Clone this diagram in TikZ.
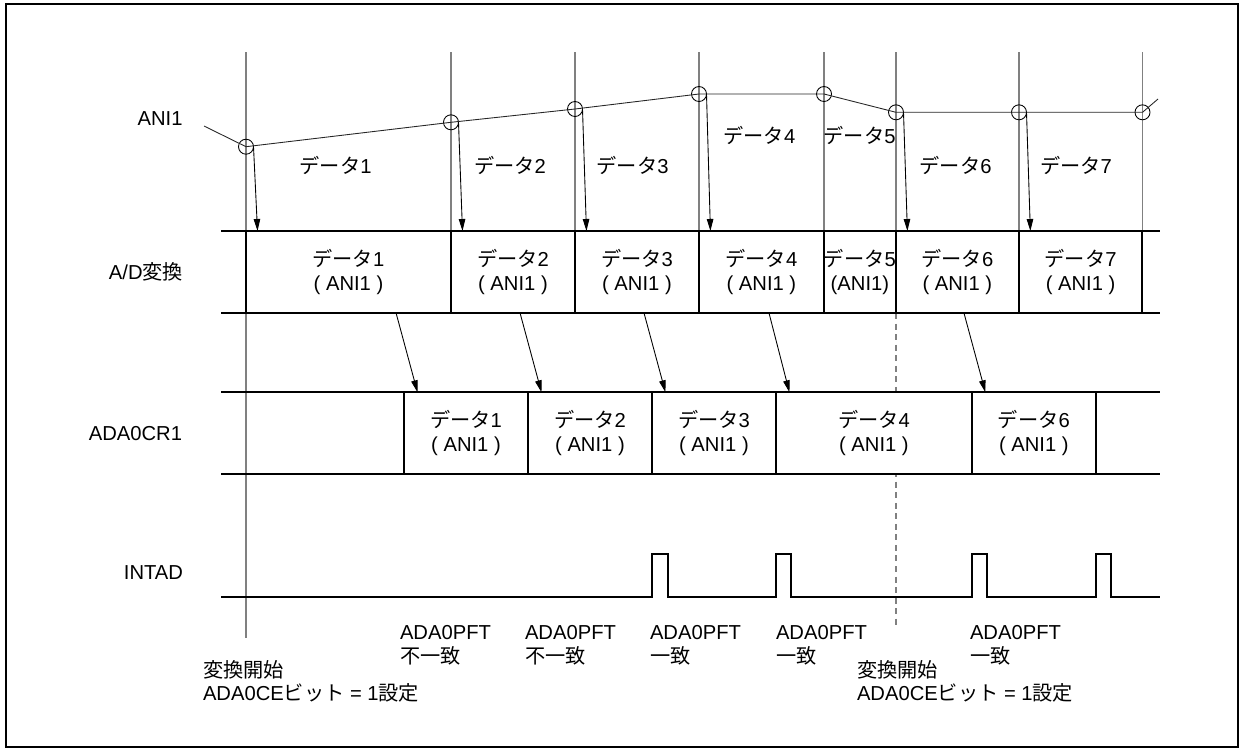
\documentclass[tikz,border=0pt]{standalone}
\usepackage{fontspec}
\setmainfont{Liberation Sans}
\newfontfamily\jp{Noto Sans CJK JP}
\usetikzlibrary{arrows.meta, positioning}

\begin{document}
\begin{tikzpicture}[
    x=0.02cm, y=-0.02cm,
    every node/.style={font=\fontsize{11.5}{13.6}\selectfont, inner sep=0pt, outer sep=0pt},
    grid/.style={gray, line width=0.6pt},
    row/.style={line width=1.3pt},
    sig/.style={black!85, line width=0.5pt},
    smp/.style={draw, circle, minimum size=0.3cm, line width=0.5pt},
    adbox/.style={draw, line width=1.3pt, minimum height=1.634cm, align=center},
    crbox/.style={draw, fill=white, line width=1.3pt, minimum height=1.64cm, align=center},
    arrow/.style={-{Triangle[length=2.4mm, width=1.3mm]}, line width=0.5pt},
    note/.style={anchor=north west, align=left}
  ]
  \useasboundingbox (0,0) rectangle (1241,751);
  \draw[line width=0.9pt] (6,4) rectangle (1238,747);

  % Signal names
  \node[anchor=east] (lani) at (182.5,119) {ANI1};
  \node[anchor=east] (lad)  at (183,272) {A/D{\jp 変換}};
  \node[anchor=east] (lcr)  at (182,434) {ADA0CR1};
  \node[anchor=east] (lint) at (183,573) {INTAD};

  % Sampling grid
  \draw[grid] (246,52) -- (246,638);
  \draw[grid] (451,52) -- (451,231);
  \draw[grid] (575,52) -- (575,231);
  \draw[grid] (699,52) -- (699,231);
  \draw[grid] (824,52) -- (824,231);
  \draw[grid] (896,52) -- (896,313);
  \draw[grid] (1019,52) -- (1019,231);
  \draw[grid] (1142.5,52) -- (1142.5,231);
  \draw[grid, dash pattern=on 3.4pt off 2.6pt] (896,313) -- (896,625);

  % ANI1 input and sampling points
  \coordinate (ain) at (204,126);
  \coordinate (aout) at (1158,99);
  \node[smp] (c1) at (246,146.7) {};
  \node[smp] (c2) at (451,122.3) {};
  \node[smp] (c3) at (575,109) {};
  \node[smp] (c4) at (699,94) {};
  \node[smp] (c5) at (824,94) {};
  \node[smp] (c6) at (896,112.3) {};
  \node[smp] (c7) at (1019,112.3) {};
  \node[smp] (c8) at (1142.5,112.3) {};
  \draw[sig] (ain) -- (c1.center) -- (c2.center) -- (c3.center) -- (c4.center)
    -- (c5.center) -- (c6.center) -- (c7.center) -- (c8.center) -- (aout);

  \node (d1) at (335.7,165) {{\jp データ}1};
  \node (d2) at (510,165) {{\jp データ}2};
  \node (d3) at (632.7,165) {{\jp データ}3};
  \node (d4) at (759.4,135) {{\jp データ}4};
  \node (d5) at (859.6,135) {{\jp データ}5};
  \node (d6) at (955.7,165) {{\jp データ}6};
  \node (d7) at (1076,165) {{\jp データ}7};

  % A/D conversion row
  \draw[row] (221,231) -- (1160,231);
  \draw[row] (221,312.7) -- (1160,312.7);
  \node[adbox, minimum width=4.1cm] (ad1) at (348.5,271.85) {{\jp データ}1\\( ANI1 )};
  \node[adbox, minimum width=2.48cm, right=0pt of ad1] (ad2) {{\jp データ}2\\( ANI1 )};
  \node[adbox, minimum width=2.48cm, right=0pt of ad2] (ad3) {{\jp データ}3\\( ANI1 )};
  \node[adbox, minimum width=2.5cm, right=0pt of ad3] (ad4) {{\jp データ}4\\( ANI1 )};
  \node[adbox, minimum width=1.44cm, right=0pt of ad4] (ad5) {{\jp データ}5\\(ANI1)};
  \node[adbox, minimum width=2.46cm, right=0pt of ad5] (ad6) {{\jp データ}6\\( ANI1 )};
  \node[adbox, minimum width=2.47cm, right=0pt of ad6] (ad7) {{\jp データ}7\\( ANI1 )};

  \draw[arrow] (c1.east) -- ([xshift=0.23cm]ad1.north west);
  \draw[arrow] (c2.east) -- ([xshift=0.23cm]ad2.north west);
  \draw[arrow] (c3.east) -- ([xshift=0.23cm]ad3.north west);
  \draw[arrow] (c4.east) -- ([xshift=0.23cm]ad4.north west);
  \draw[arrow] (c6.east) -- ([xshift=0.23cm]ad6.north west);
  \draw[arrow] (c7.east) -- ([xshift=0.23cm]ad7.north west);

  % ADA0CR1 row
  \draw[row] (221,392.3) -- (1160,392.3);
  \draw[row] (221,474.3) -- (1160,474.3);
  \node[crbox, minimum width=2.48cm] (cr1) at (466,433.3) {{\jp データ}1\\( ANI1 )};
  \node[crbox, minimum width=2.48cm, right=0pt of cr1] (cr2) {{\jp データ}2\\( ANI1 )};
  \node[crbox, minimum width=2.48cm, right=0pt of cr2] (cr3) {{\jp データ}3\\( ANI1 )};
  \node[crbox, minimum width=3.92cm, right=0pt of cr3] (cr4) {{\jp データ}4\\( ANI1 )};
  \node[crbox, minimum width=2.48cm, right=0pt of cr4] (cr6) {{\jp データ}6\\( ANI1 )};

  \draw[arrow] ([xshift=-1.1cm]ad1.south east) -- ([xshift=0.27cm]cr1.north west);
  \draw[arrow] ([xshift=-1.1cm]ad2.south east) -- ([xshift=0.27cm]cr2.north west);
  \draw[arrow] ([xshift=-1.1cm]ad3.south east) -- ([xshift=0.27cm]cr3.north west);
  \draw[arrow] ([xshift=-1.1cm]ad4.south east) -- ([xshift=0.27cm]cr4.north west);
  \draw[arrow] ([xshift=-1.1cm]ad6.south east) -- ([xshift=0.27cm]cr6.north west);

  % INTAD pulses
  \draw[row] (221,596.7) -- (652,596.7) -- (652,554) -- (668,554) -- (668,596.7)
    -- (776,596.7) -- (776,554) -- (791,554) -- (791,596.7)
    -- (972,596.7) -- (972,554) -- (987,554) -- (987,596.7)
    -- (1096,596.7) -- (1096,554) -- (1111,554) -- (1111,596.7) -- (1160,596.7);

  % Notes
  \node[note] (m1) at (400,625) {ADA0PFT\\{\jp 不一致}};
  \node[note] (m2) at (525,625) {ADA0PFT\\{\jp 不一致}};
  \node[note] (m3) at (650,625) {ADA0PFT\\{\jp 一致}};
  \node[note] (m4) at (776,625) {ADA0PFT\\{\jp 一致}};
  \node[note] (m5) at (970,625) {ADA0PFT\\{\jp 一致}};
  \node[note] (s1) at (203,660) {{\jp 変換開始}\\ADA0CE{\jp ビット} = 1{\jp 設定}};
  \node[note] (s2) at (857,660) {{\jp 変換開始}\\ADA0CE{\jp ビット} = 1{\jp 設定}};
\end{tikzpicture}
\end{document}
